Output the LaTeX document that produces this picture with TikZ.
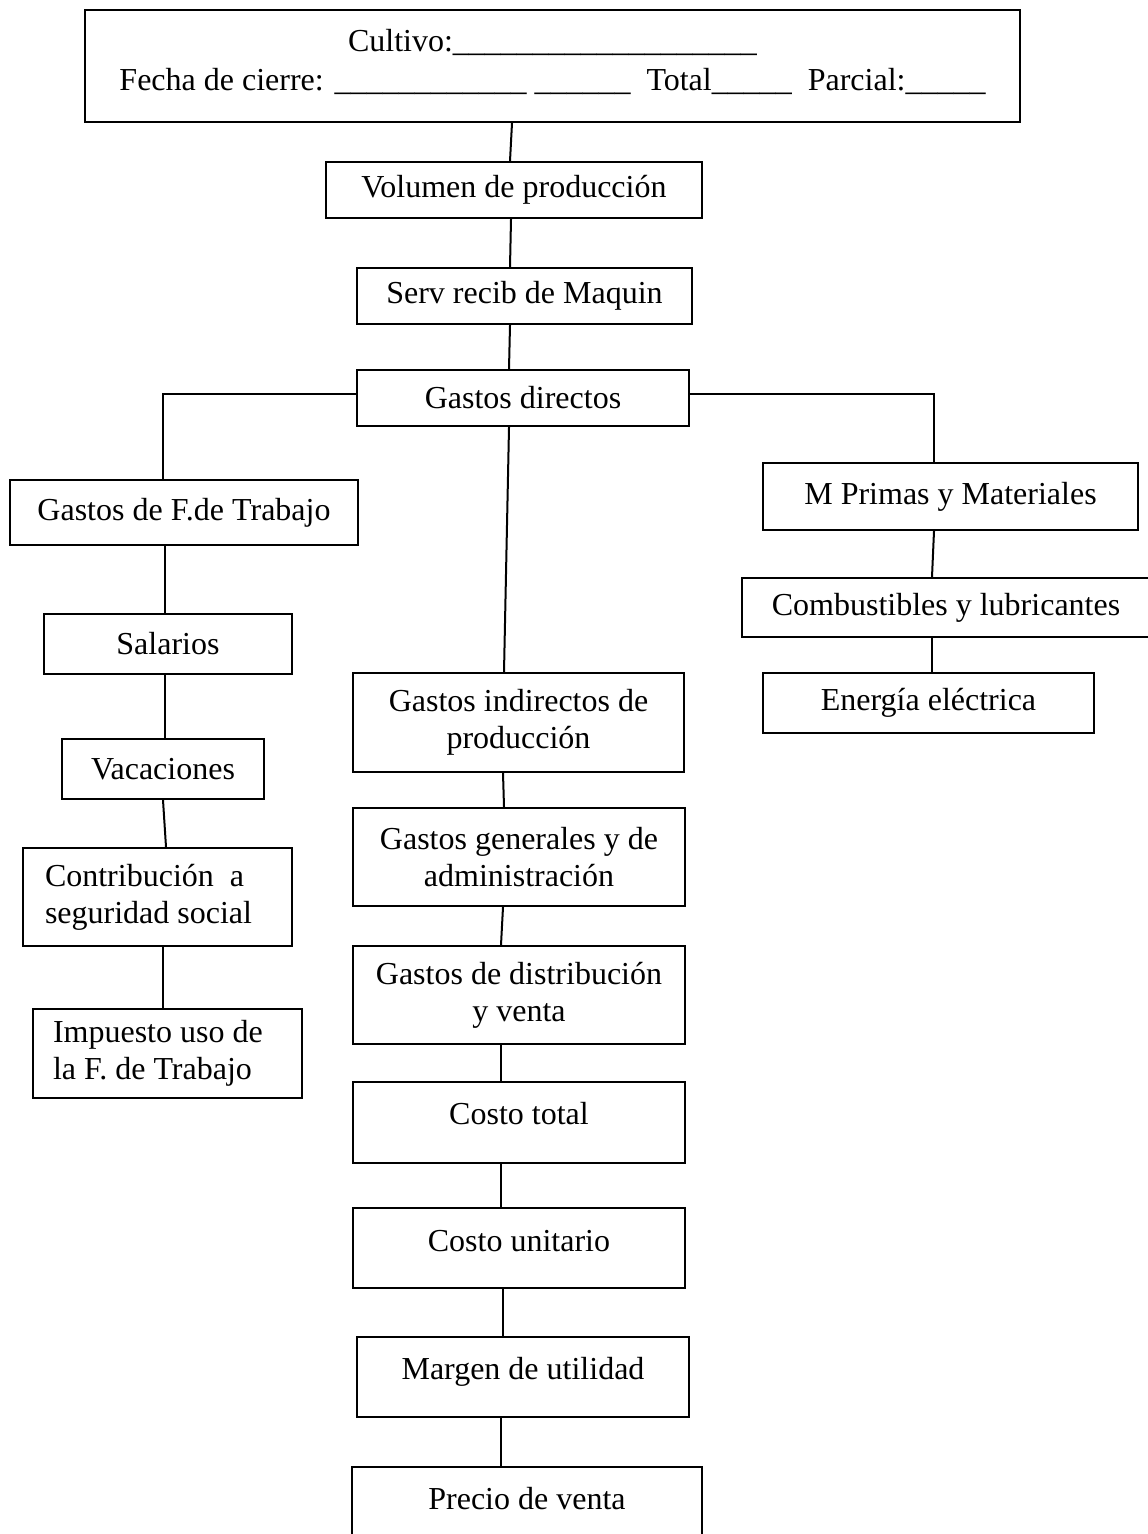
\documentclass[tikz,border=0pt]{standalone}
\usepackage{fontspec}
\setmainfont{Liberation Serif}

\begin{document}
\begin{tikzpicture}[x=0.5pt, y=-0.5pt,
    caja/.style={draw, line width=1.1pt, inner sep=0pt, align=center,
        font=\fontsize{16}{18.5}\selectfont},
    subir/.style={text height=11pt, text depth=#1},
    enlace/.style={line width=1pt}]
    \useasboundingbox (0,0) rectangle (1147,1534);

    % cabecera y cadena superior
    \node[caja, text depth=6pt, minimum width=467.5pt, minimum height=56pt] (cab) at (552.5,66)
        {Cultivo:\_\_\_\_\_\_\_\_\_\_\_\_\_\_\_\_\_\_\_\\[1pt]
         Fecha de cierre: \_\_\_\_\_\_\_\_\_\_\_\_ \_\_\_\_\_\_ ~Total\_\_\_\_\_ ~Parcial:\_\_\_\_\_};
    \node[caja, minimum width=188pt, minimum height=28pt] (vol) at (514,190) {Volumen de producción};
    \node[caja, minimum width=167.5pt, minimum height=28pt] (serv) at (524.5,296) {Serv recib de Maquin};
    \node[caja, minimum width=166pt, minimum height=28pt] (gd) at (523,398) {Gastos directos};

    % rama izquierda
    \node[caja, minimum width=174pt, minimum height=32.5pt] (gft) at (184,512.5) {Gastos de F.de Trabajo};
    \node[caja, minimum width=124pt, minimum height=30pt] (sal) at (168,644) {Salarios};
    \node[caja, minimum width=101pt, minimum height=30pt] (vac) at (163,769) {Vacaciones};
    \node[caja, align=flush left, text width=112.5pt, inner xsep=11pt, minimum height=49pt] (con) at (157.5,897)
        {Contribución ~a\\seguridad social};
    \node[caja, align=flush left, text width=114.5pt, inner xsep=10pt, minimum height=44.5pt] (imp) at (167.5,1053.5)
        {Impuesto uso de\\la F. de Trabajo};

    % rama central
    \node[caja, minimum width=165.5pt, minimum height=49.5pt] (gip) at (518.5,722.5) {Gastos indirectos de\\producción};
    \node[caja, minimum width=166pt, minimum height=49pt] (gga) at (519,857) {Gastos generales y de\\administración};
    \node[caja, minimum width=166pt, minimum height=49pt] (gdv) at (519,995) {Gastos de distribución\\y venta};
    \node[caja, subir=9.5pt, minimum width=166pt, minimum height=40.5pt] (ctot) at (519,1122.5) {Costo total};
    \node[caja, subir=8pt, minimum width=166pt, minimum height=40pt] (cuni) at (519,1248) {Costo unitario};
    \node[caja, subir=9pt, minimum width=166pt, minimum height=40pt] (marg) at (523,1377) {Margen de utilidad};
    \node[caja, subir=10.5pt, minimum width=175pt, minimum height=41.5pt] (prec) at (527,1508.5) {Precio de venta};

    % rama derecha
    \node[caja, minimum width=187.5pt, minimum height=33.5pt] (mpm) at (950.5,496.5) {M Primas y Materiales};
    \node[caja, minimum width=204pt, minimum height=29.5pt] (comb) at (946,607.5) {Combustibles y lubricantes};
    \node[caja, minimum width=165.5pt, minimum height=30pt] (ene) at (928.5,703) {Energía eléctrica};

    % conectores
    \foreach \a/\b/\xa/\xb in {cab/vol/512/510, vol/serv/511/510, serv/gd/510/509, gd/gip/509/504,
        gft/sal/165/165, sal/vac/165/165, vac/con/163/166, con/imp/163/163,
        gip/gga/503/504, gga/gdv/503/501, gdv/ctot/501/501, ctot/cuni/501/501,
        cuni/marg/503/503, marg/prec/501/501, mpm/comb/934/932, comb/ene/932/932}
        \draw[enlace] (\a.south -| \xa,0) -- (\b.north -| \xb,0);
    \draw[enlace] (gd.west |- 0,394) -| (gft.north -| 163,0);
    \draw[enlace] (gd.east |- 0,394) -| (mpm.north -| 934,0);
\end{tikzpicture}
\end{document}
